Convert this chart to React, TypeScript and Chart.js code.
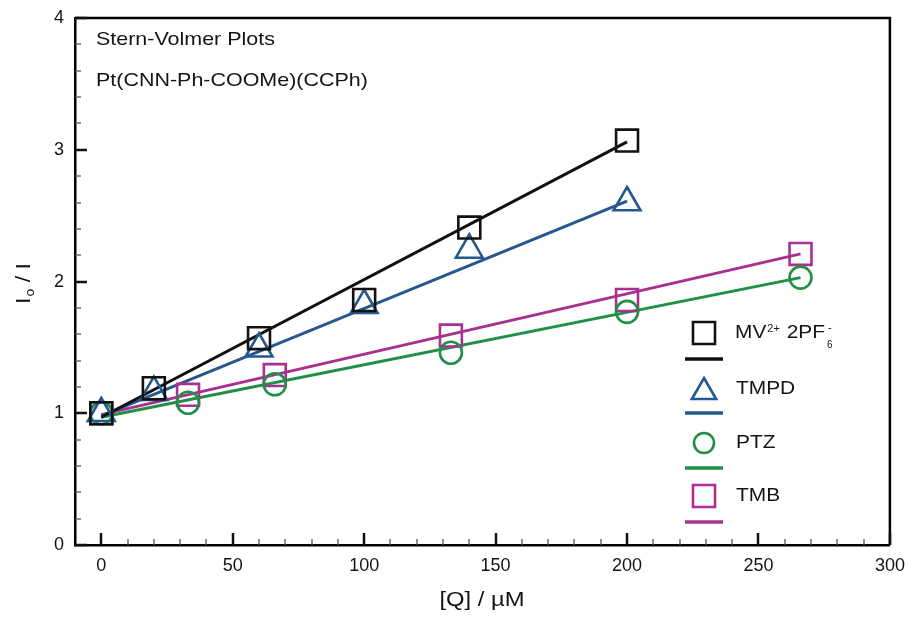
import React, { useEffect, useRef } from 'react';
import { Chart, registerables } from 'chart.js';

Chart.register(...registerables);

// ---- data ----
const mvX = [0, 20, 60, 100, 140, 200];
const mvY = [1.0, 1.19, 1.57, 1.86, 2.41, 3.07];
const tmpdX = [0, 20, 60, 100, 140, 200];
const tmpdY = [1.0, 1.16, 1.49, 1.82, 2.24, 2.6];
const ptzX = [0, 33, 66, 133, 200, 266];
const ptzY = [1.0, 1.08, 1.22, 1.46, 1.77, 2.03];
const tmbX = [0, 33, 66, 133, 200, 266];
const tmbY = [1.0, 1.14, 1.29, 1.59, 1.86, 2.21];

// linear-fit line end points
const mvFitX = [0, 200];
const mvFitY = [0.97, 3.06];
const tmpdFitX = [0, 200];
const tmpdFitY = [0.98, 2.61];
const ptzFitX = [0, 266];
const ptzFitY = [0.97, 2.03];
const tmbFitX = [0, 266];
const tmbFitY = [0.99, 2.21];

const xTicks = [0, 50, 100, 150, 200, 250, 300];
const yTicks = [0, 1, 2, 3, 4];
const xMinorStep = 10;
const yMinorStep = 0.2;

const legendNames = ['MV', 'TMPD', 'PTZ', 'TMB'];
const titleLines = ['Stern-Volmer Plots', 'Pt(CNN-Ph-COOMe)(CCPh)'];
const xTitle = '[Q] / \u00b5M';

const C_BLACK = '#111111';
const C_BLUE = '#27578f';
const C_GREEN = '#1f9046';
const C_MAG = '#a8318f';

const FONT = '"Liberation Sans", Arial, Helvetica, sans-serif';
const SX = 1.16;

function drawText(ctx: CanvasRenderingContext2D, text: string, x: number, y: number, size: number, align = 'left', sx = SX) {
  ctx.save();
  ctx.font = `${size}px ${FONT}`;
  const w = ctx.measureText(text).width * sx;
  let x0 = x;
  if (align === 'center') x0 = x - w / 2;
  else if (align === 'right') x0 = x - w;
  ctx.translate(x0, y);
  ctx.scale(sx, 1);
  ctx.textAlign = 'left';
  ctx.textBaseline = 'middle';
  ctx.fillStyle = '#141414';
  ctx.fillText(text, 0, 0);
  ctx.restore();
  return w;
}

const pts = (xs: number[], ys: number[]) => xs.map((x, i) => ({ x, y: ys[i] }));

const markerDs = (label: string, xs: number[], ys: number[], color: string, style: string, r: number) => ({
  label,
  data: pts(xs, ys),
  showLine: false,
  pointStyle: style,
  pointRadius: r,
  pointBorderColor: color,
  pointBackgroundColor: 'rgba(0,0,0,0)',
  pointBorderWidth: 2.6,
  borderColor: color,
  backgroundColor: 'rgba(0,0,0,0)',
});

const lineDs = (label: string, xs: number[], ys: number[], color: string) => ({
  label,
  data: pts(xs, ys),
  showLine: true,
  pointRadius: 0,
  borderColor: color,
  borderWidth: 3,
  backgroundColor: 'rgba(0,0,0,0)',
  fill: false,
});

const framePlugin = {
  id: 'frame',
  beforeDatasetsDraw(chart: any) {
    const { ctx, chartArea: a, scales } = chart;
    const xs = scales.x;
    const ys = scales.y;
    ctx.save();
    ctx.strokeStyle = '#000';
    ctx.lineWidth = 2.5;
    ctx.beginPath();
    ctx.moveTo(a.left, a.top);
    ctx.lineTo(a.right, a.top);
    ctx.lineTo(a.right, a.bottom);
    ctx.stroke();
    // x ticks
    for (let v = 0; v <= 300 + 1e-6; v += xMinorStep) {
      const major = xTicks.includes(Math.round(v));
      const px = Math.round(xs.getPixelForValue(v));
      ctx.lineWidth = major ? 2.5 : 1.3;
      ctx.strokeStyle = major ? '#111' : '#555';
      ctx.beginPath();
      ctx.moveTo(px, a.bottom);
      ctx.lineTo(px, a.bottom - (major ? 12 : 6));
      ctx.stroke();
    }
    // y ticks
    for (let i = 0; i <= 20; i++) {
      const v = i * yMinorStep;
      const major = i % 5 === 0;
      const py = Math.round(ys.getPixelForValue(v));
      ctx.lineWidth = major ? 2.5 : 1.3;
      ctx.strokeStyle = major ? '#111' : '#555';
      ctx.beginPath();
      ctx.moveTo(a.left, py);
      ctx.lineTo(a.left + (major ? 12 : 6), py);
      ctx.stroke();
    }
    ctx.restore();
  },
  afterDraw(chart: any) {
    const { ctx, chartArea: a } = chart;
    ctx.save();
    // annotations
    drawText(ctx, titleLines[0], 96, 40, 18.5);
    drawText(ctx, titleLines[1], 96, 81, 18.5);
    // x title
    drawText(ctx, xTitle, 482, 601, 19.5, 'center', 1.22);
    // y title (rotated)
    ctx.save();
    ctx.translate(24, 304);
    ctx.rotate(-Math.PI / 2);
    let w = drawText(ctx, 'I', 0, 0, 20);
    w += drawText(ctx, 'o', w + 1, 7, 12) + 1;
    drawText(ctx, ' / I', w, 0, 20);
    ctx.restore();

    // legend
    const lx = 704;
    const rows = [333, 389, 443, 496];
    const colors = [C_BLACK, C_BLUE, C_GREEN, C_MAG];
    rows.forEach((ry, i) => {
      const c = colors[i];
      ctx.strokeStyle = c;
      ctx.lineWidth = 2.6;
      ctx.beginPath();
      if (i === 0 || i === 3) {
        ctx.rect(lx - 11, ry - 11, 22, 22);
      } else if (i === 1) {
        const r = 14;
        const cy = ry + 3;
        ctx.moveTo(lx, cy - r);
        ctx.lineTo(lx + r * Math.sin((2 * Math.PI) / 3), cy + r / 2);
        ctx.lineTo(lx - r * Math.sin((2 * Math.PI) / 3), cy + r / 2);
        ctx.closePath();
      } else {
        ctx.arc(lx, ry, 10, 0, Math.PI * 2);
      }
      ctx.stroke();
      ctx.lineWidth = 3.5;
      ctx.beginPath();
      const ly = [359, 413, 468, 522][i];
      ctx.moveTo(lx - 19, ly);
      ctx.lineTo(lx + 19, ly);
      ctx.stroke();
      if (i === 0) {
        let tx = 735;
        tx += drawText(ctx, legendNames[0], tx, ry, 19, 'left', 1.1);
        tx += drawText(ctx, '2+', tx + 1, ry - 4, 11, 'left', 1.0) + 2;
        tx += drawText(ctx, ' 2PF', tx, ry, 19, 'left', 1.1);
        drawText(ctx, '6', tx + 2, ry + 12, 10, 'left', 1.0);
        drawText(ctx, '-', tx + 3, ry - 5, 11, 'left', 1.0);
      } else {
        drawText(ctx, legendNames[i], 736, ry, 19, 'left', 1.1);
      }
    });
    ctx.restore();
  },
};

export default function App() {
  const ref = useRef<HTMLCanvasElement | null>(null);
  useEffect(() => {
    if (!ref.current) return;
    const chart = new Chart(ref.current, {
      type: 'scatter',
      data: {
        datasets: [
          markerDs('MV', mvX, mvY, C_BLACK, 'rect', 15.5),
          markerDs('TMPD', tmpdX, tmpdY, C_BLUE, 'triangle', 15.5),
          markerDs('PTZ', ptzX, ptzY, C_GREEN, 'circle', 11),
          markerDs('TMB', tmbX, tmbY, C_MAG, 'rect', 15.5),
          lineDs('MV fit', mvFitX, mvFitY, C_BLACK),
          lineDs('TMPD fit', tmpdFitX, tmpdFitY, C_BLUE),
          lineDs('PTZ fit', ptzFitX, ptzFitY, C_GREEN),
          lineDs('TMB fit', tmbFitX, tmbFitY, C_MAG),
        ] as any,
      },
      options: {
        responsive: false,
        animation: false,
        devicePixelRatio: 1,
        layout: { padding: { top: 17, right: 18, left: 0, bottom: 0 } },
        plugins: { legend: { display: false }, tooltip: { enabled: false } },
        scales: {
          x: {
            type: 'linear',
            min: -10,
            max: 300,
            afterBuildTicks: (s: any) => {
              s.ticks = xTicks.map((v) => ({ value: v }));
            },
            afterFit: (s: any) => {
              s.height = 73;
              s.paddingLeft = 0;
              s.paddingRight = 0;
            },
            grid: { display: false, drawTicks: false },
            border: { display: true, color: '#000', width: 2.5 },
            ticks: { font: { family: FONT, size: 18 }, color: '#141414', padding: 10, maxRotation: 0 },
          },
          y: {
            type: 'linear',
            min: 0,
            max: 4,
            afterBuildTicks: (s: any) => {
              s.ticks = yTicks.map((v) => ({ value: v }));
            },
            afterFit: (s: any) => {
              s.width = 75;
              s.paddingTop = 0;
              s.paddingBottom = 0;
            },
            grid: { display: false, drawTicks: false },
            border: { display: true, color: '#000', width: 2.5 },
            ticks: { font: { family: FONT, size: 18 }, color: '#141414', padding: 11 },
          },
        },
      } as any,
      plugins: [framePlugin],
    });
    return () => chart.destroy();
  }, []);
  return (
    <div style={{ position: 'absolute', left: 0, top: 0, width: 908, height: 618, background: '#fff' }}>
      <canvas ref={ref} width={908} height={618} />
    </div>
  );
}
